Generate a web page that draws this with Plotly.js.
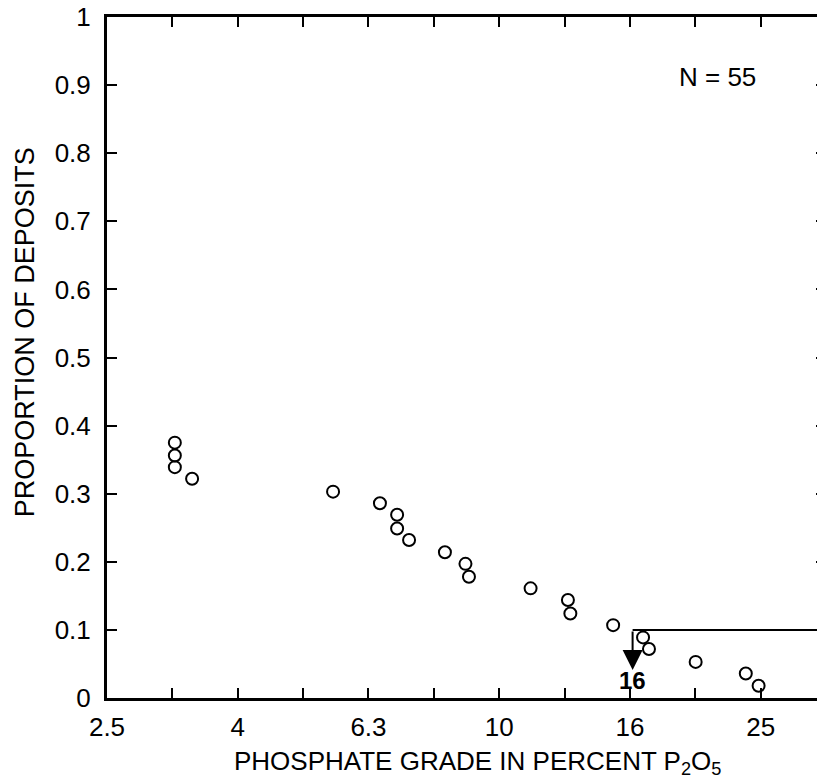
<!DOCTYPE html>
<html>
<head>
<meta charset="utf-8">
<script src="https://cdn.plot.ly/plotly-3.0.1.min.js"></script>
<style>
html,body{margin:0;padding:0;overflow:hidden;background:#fff;}
#chart{width:840px;height:783px;}
</style>
</head>
<body>
<div id="chart"></div>
<script>
// Phosphate grade (% P2O5) of each plotted deposit
const grade = [3.19, 3.19, 3.19, 3.39, 5.57, 6.57, 6.98, 6.98, 7.28, 8.26, 8.88, 8.99, 11.17, 12.74, 12.85, 14.94, 16.6, 16.95, 19.98, 23.84, 24.94];
// Proportion of deposits
const proportion = [0.375, 0.356, 0.339, 0.322, 0.303, 0.286, 0.269, 0.249, 0.232, 0.214, 0.197, 0.178, 0.161, 0.144, 0.124, 0.107, 0.089, 0.072, 0.053, 0.036, 0.018];

// X-axis ticks (log scale)
const xTickVals = [2.512, 3.981, 6.310, 10, 15.85, 25.12];
const xTickText = ['2.5', '4', '6.3', '10', '16', '25'];
const xMinorVals = [3.162, 5.012, 7.943, 12.59, 19.95, 31.62];
const yTickVals = [0, 0.1, 0.2, 0.3, 0.4, 0.5, 0.6, 0.7, 0.8, 0.9, 1];
const yTickText = ['0', '0.1', '0.2', '0.3', '0.4', '0.5', '0.6', '0.7', '0.8', '0.9', '1'];

// Percentile marker: 10th percentile grade
const markGrade = 16;
const markProp = 0.1;
const markTipProp = 0.041;
const markLabel = '16';
const markLabelProp = 0.025;
const stepFarGrade = 40;

const nLabel = 'N = 55';
const nLabelGrade = 21.6;
const nLabelProp = 0.912;

const FONT = 'Liberation Sans, Arial, Helvetica, sans-serif';

const traces = [
  {
    x: grade, y: proportion, type: 'scatter', mode: 'markers',
    marker: {symbol: 'circle-open', size: 12, color: '#000', line: {width: 2, color: '#000'}},
    hoverinfo: 'skip', showlegend: false
  },
  {
    x: [stepFarGrade, markGrade], y: [markProp, markProp], type: 'scatter', mode: 'lines',
    line: {color: '#000', width: 2}, hoverinfo: 'skip', showlegend: false
  }
];

const axisCommon = {
  showline: true, linecolor: '#000', linewidth: 3,
  ticks: 'inside', ticklen: 10, tickwidth: 2, tickcolor: '#000',
  mirror: 'allticks', showgrid: false, zeroline: false,
  tickfont: {family: FONT, size: 26, color: '#000'}
};

const layout = {
  width: 840, height: 783,
  margin: {l: 107, r: 14, t: 17, b: 85},
  paper_bgcolor: '#fff', plot_bgcolor: '#fff',
  showlegend: false,
  xaxis: Object.assign({}, axisCommon, {
    type: 'log', range: [0.4, 1.5],
    tickmode: 'array', tickvals: xTickVals, ticktext: xTickText,
    minor: {tickmode: 'array', tickvals: xMinorVals, ticks: 'inside', ticklen: 10, tickwidth: 2, tickcolor: '#000', showgrid: false},
    ticklabelstandoff: 4
  }),
  yaxis: Object.assign({}, axisCommon, {
    range: [0, 1], tickmode: 'array', tickvals: yTickVals, ticktext: yTickText,
    ticklabelstandoff: 8
  }),
  annotations: [
    {
      x: Math.log10(markGrade), y: markTipProp, xref: 'x', yref: 'y',
      ax: Math.log10(markGrade), ay: markProp, axref: 'x', ayref: 'y',
      text: '', showarrow: true, arrowhead: 2, arrowsize: 2, arrowwidth: 2, arrowcolor: '#000'
    },
    {
      x: Math.log10(markGrade), y: markLabelProp, xref: 'x', yref: 'y',
      text: '<b>' + markLabel + '</b>', showarrow: false,
      font: {family: FONT, size: 24, color: '#000'}
    },
    {
      x: Math.log10(nLabelGrade), y: nLabelProp, xref: 'x', yref: 'y',
      text: nLabel, showarrow: false,
      font: {family: FONT, size: 26, color: '#000'}
    },
    {
      xref: 'paper', yref: 'paper', x: (477 - 107) / 719, y: -0.095,
      xanchor: 'center', yanchor: 'middle',
      text: 'PHOSPHATE GRADE IN PERCENT P<sub>2</sub>O<sub>5</sub>', showarrow: false,
      font: {family: FONT, size: 26, color: '#000'}
    },
    {
      xref: 'paper', yref: 'paper', x: (25 - 107) / 719, y: 0.537,
      xanchor: 'center', yanchor: 'middle', textangle: -90,
      text: 'PROPORTION OF DEPOSITS', showarrow: false,
      font: {family: FONT, size: 27, color: '#000'}
    }
  ]
};

Plotly.newPlot('chart', traces, layout, {displayModeBar: false, staticPlot: true});
</script>
</body>
</html>
